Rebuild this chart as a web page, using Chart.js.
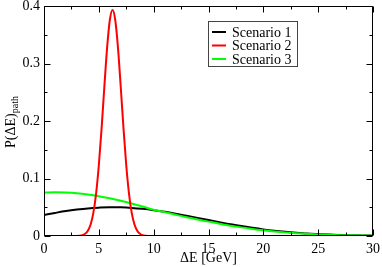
<!DOCTYPE html>
<html>
<head>
<meta charset="utf-8">
<script src="https://cdn.jsdelivr.net/npm/chart.js@4/dist/chart.umd.min.js"></script>
<style>
  html, body { margin: 0; padding: 0; background: #fff; }
  #wrap { width: 382px; height: 267px; position: relative; }
</style>
</head>
<body>
<div id="wrap"><canvas id="chart"></canvas></div>
<script>
// values
var energy = [0, 1, 2, 3, 4, 5, 6, 7, 8, 9, 10, 11, 12, 13, 14, 15, 16, 17, 18, 19, 20,
              21, 22, 23, 24, 25, 26, 27, 28, 29, 30];
var scenario1 = [0.0367, 0.0401, 0.0433, 0.0459, 0.0480, 0.0493, 0.0500, 0.0498, 0.0489, 0.0472, 0.0449,
                 0.0421, 0.0388, 0.0352, 0.0315, 0.0277, 0.0240, 0.0204, 0.0172, 0.0142, 0.0115,
                 0.0092, 0.0073, 0.0057, 0.0043, 0.0033, 0.0024, 0.0018, 0.0013, 0.0009, 0.0006];
var scenario3 = [0.0755, 0.0760, 0.0755, 0.0742, 0.0720, 0.0691, 0.0655, 0.0613, 0.0565, 0.0512, 0.0458,
                 0.0415, 0.0370, 0.0326, 0.0287, 0.0250, 0.0213, 0.0180, 0.0150, 0.0123, 0.0100,
                 0.0080, 0.0063, 0.0049, 0.0037, 0.0028, 0.0021, 0.0015, 0.0011, 0.0008, 0.0005];
var energyFine = [0, 3, 3.25, 3.5, 3.75, 4, 4.25, 4.5, 4.75, 5, 5.25, 5.5, 5.75, 6, 6.25, 6.5, 6.75,
                  7, 7.25, 7.5, 7.75, 8, 8.25, 8.5, 8.75, 9, 9.25, 9.5, 30];
var scenario2 = [0, 0.0002, 0.0005, 0.0014, 0.0038, 0.0091, 0.0201, 0.0403, 0.0738, 0.1230, 0.1868,
                 0.2587, 0.3264, 0.3752, 0.3930, 0.3752, 0.3264, 0.2587, 0.1868, 0.1230, 0.0738,
                 0.0403, 0.0201, 0.0091, 0.0038, 0.0014, 0.0005, 0.0002, 0];

var xTicks = [0, 5, 10, 15, 20, 25, 30];
var yTicks = [0, 0.1, 0.2, 0.3, 0.4];
var seriesNames = ['Scenario 1', 'Scenario 2', 'Scenario 3'];
var seriesColors = ['#000000', '#ff0000', '#00ff00'];

var FONT = '"Liberation Serif", "DejaVu Serif", serif';

function pts(xs, ys) {
  return xs.map(function(x, i) { return { x: x, y: ys[i] }; });
}

// xmgrace style frame with inward ticks on all four sides
var framePlugin = {
  id: 'frame',
  afterDatasetsDraw: function(chart) {
    var ctx = chart.ctx, a = chart.chartArea;
    var xs = chart.scales.x, ys = chart.scales.y;
    var L = Math.round(a.left) + 0.5, R = Math.round(a.right) - 0.5;
    var T = Math.round(a.top) + 0.5, B = Math.round(a.bottom) - 0.5;
    ctx.save();
    ctx.strokeStyle = '#000';
    ctx.lineWidth = 1;
    ctx.beginPath();
    ctx.rect(L, T, R - L, B - T);
    var v, p, len;
    for (v = 0; v <= 30.001; v += 2.5) {
      p = Math.round(xs.getPixelForValue(v)) + 0.5;
      len = (Math.abs(v % 5) < 0.01) ? 6 : 3;
      ctx.moveTo(p, B); ctx.lineTo(p, B - len);
      ctx.moveTo(p, T); ctx.lineTo(p, T + len);
    }
    for (v = 0; v <= 0.4001; v += 0.05) {
      p = Math.round(ys.getPixelForValue(v)) + 0.5;
      len = (Math.round(v * 100) % 10 === 0) ? 6 : 3;
      ctx.moveTo(L, p); ctx.lineTo(L + len, p);
      ctx.moveTo(R, p); ctx.lineTo(R - len, p);
    }
    ctx.stroke();
    ctx.restore();
  },
  afterDraw: function(chart) {
    var ctx = chart.ctx;
    ctx.save();
    // y axis title with subscript
    ctx.translate(15, 122);
    ctx.rotate(-Math.PI / 2);
    ctx.fillStyle = '#000';
    ctx.textBaseline = 'alphabetic';
    ctx.font = '14px ' + FONT;
    var main = 'P(ΔE)';
    ctx.font = '14px ' + FONT;
    var w1 = ctx.measureText(main).width;
    ctx.font = '10px ' + FONT;
    var w2 = ctx.measureText('path').width;
    var x0 = -(w1 + w2) / 2;
    ctx.font = '14px ' + FONT;
    ctx.fillText(main, x0, 0);
    ctx.font = '10px ' + FONT;
    ctx.fillText('path', x0 + w1, 3);
    ctx.restore();

    // legend box
    ctx.save();
    ctx.fillStyle = '#fff';
    ctx.fillRect(208, 21, 89, 46);
    ctx.strokeStyle = '#444';
    ctx.lineWidth = 1;
    ctx.strokeRect(208.5, 21.5, 89, 45);
    ctx.font = '14px ' + FONT;
    ctx.textBaseline = 'middle';
    for (var i = 0; i < seriesNames.length; i++) {
      var y = 32 + i * 13.5;
      ctx.strokeStyle = seriesColors[i];
      ctx.lineWidth = 2;
      ctx.beginPath();
      ctx.moveTo(212, y); ctx.lineTo(226, y);
      ctx.stroke();
      ctx.fillStyle = '#000';
      ctx.fillText(seriesNames[i], 232, y + 1);
    }
    ctx.restore();
  }
};

var chart = new Chart(document.getElementById('chart'), {
  type: 'scatter',
  data: {
    datasets: [
      { label: seriesNames[0], data: pts(energy, scenario1), borderColor: seriesColors[0], order: 2 },
      { label: seriesNames[1], data: pts(energyFine, scenario2), borderColor: seriesColors[1], order: 0 },
      { label: seriesNames[2], data: pts(energy, scenario3), borderColor: seriesColors[2], order: 1 }
    ].map(function(d) {
      d.showLine = true;
      d.borderWidth = 2;
      d.pointRadius = 0;
      d.cubicInterpolationMode = 'monotone';
      d.backgroundColor = d.borderColor;
      return d;
    })
  },
  options: {
    responsive: true,
    maintainAspectRatio: false,
    animation: false,
    layout: { padding: { top: 6, right: 9, left: 0, bottom: 0 } },
    plugins: { legend: { display: false }, tooltip: { enabled: false } },
    scales: {
      x: {
        type: 'linear',
        min: 0, max: 30,
        afterBuildTicks: function(s) { s.ticks = xTicks.map(function(v) { return { value: v }; }); },
        afterFit: function(s) { s.height = 31; s.paddingLeft = 0; s.paddingRight = 0; },
        grid: { display: false, drawTicks: false },
        border: { display: false },
        ticks: { color: '#000', padding: 5, maxRotation: 0, font: { family: FONT, size: 14 } },
        title: { display: true, text: 'ΔE [GeV]', color: '#000', padding: { top: 0, bottom: 0 },
                 font: { family: FONT, size: 14 } }
      },
      y: {
        type: 'linear',
        min: 0, max: 0.4,
        afterBuildTicks: function(s) { s.ticks = yTicks.map(function(v) { return { value: v }; }); },
        afterFit: function(s) { s.width = 44; s.paddingTop = 0; s.paddingBottom = 0; },
        grid: { display: false, drawTicks: false },
        border: { display: false },
        ticks: { color: '#000', padding: 4, font: { family: FONT, size: 14 },
                 callback: function(v) { return v === 0 ? '0' : v.toFixed(1); } }
      }
    }
  },
  plugins: [framePlugin]
});
</script>
</body>
</html>
